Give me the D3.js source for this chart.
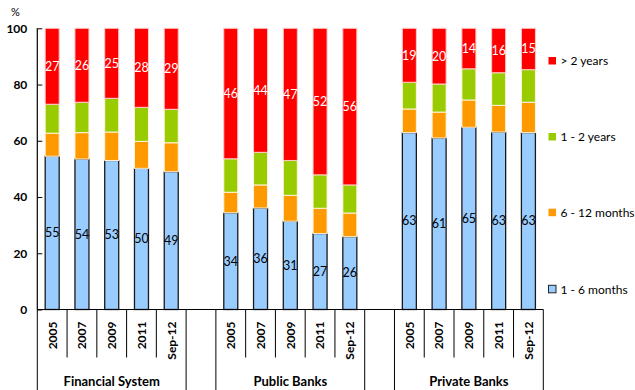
<!DOCTYPE html>
<html><head><meta charset="utf-8">
<script src="https://cdn.jsdelivr.net/npm/d3@7"></script>
<style>body{margin:0;background:#fff}svg{display:block}text{font-family:Lato,"Open Sans",sans-serif}</style>
</head><body><svg id="c" width="635" height="390"></svg>
<script>
const groups = ["Financial System", "Public Banks", "Private Banks"];
const periods = ["2005", "2007", "2009", "2011", "Sep-12"];
const seriesNames = ["1 - 6 months", "6 - 12 months", "1 - 2 years", "> 2 years"];
const seriesColors = ["#99CCFF", "#FF9900", "#99CC00", "#FF0000"];
// values per group, per period: [1-6m, 6-12m, 1-2y, >2y]
const finSystem = [[54.5, 8.2, 10.3, 27.0], [53.5, 9.4, 10.8, 26.3], [53.0, 10.1, 12.0, 24.9], [50.2, 9.6, 12.1, 28.1], [49.0, 10.3, 11.9, 28.8]];
const publicBanks = [[34.4, 7.3, 11.9, 46.4], [36.1, 8.2, 11.6, 44.1], [31.4, 9.2, 12.4, 47.0], [27.0, 9.0, 11.9, 52.1], [25.9, 8.4, 10.0, 55.7]];
const privateBanks = [[62.9, 8.4, 9.5, 19.2], [61.0, 9.2, 10.0, 19.8], [64.8, 9.7, 11.1, 14.4], [63.1, 9.5, 11.6, 15.8], [62.9, 10.8, 11.6, 14.7]];
const yTicks = [0, 20, 40, 60, 80, 100];

const groupData = [finSystem, publicBanks, privateBanks];
const svg = d3.select("#c");
const x0 = 37.3, x1 = 543.3, yTop = 28.3, yBot = 309.5;

const slots = [];
groups.forEach((g, gi) => {
  periods.forEach((p, pi) => slots.push({key: g + "|" + p, g, p, gi, pi, vals: groupData[gi][pi]}));
  if (gi < groups.length - 1) slots.push({key: "gap" + gi, gap: true});
});
const x = d3.scaleBand().domain(slots.map(s => s.key)).range([x0, x1]).paddingInner(0).paddingOuter(0);
const y = d3.scaleLinear().domain([0, 100]).range([yBot, yTop]);
const bw = 14;

const bars = slots.filter(s => !s.gap);
bars.forEach(s => {
  let acc = 0;
  const cx = x(s.key) + x.bandwidth() / 2;
  s.vals.forEach((v, i) => {
    const ya = y(acc + v), yb = y(acc);
    svg.append("rect").attr("x", cx - bw / 2).attr("y", ya).attr("width", bw).attr("height", yb - ya)
      .attr("fill", seriesColors[i])
      .attr("stroke", i === 0 ? "#1a1a1a" : (i === 3 ? "#ffc8c8" : "#fff4dd"))
      .attr("stroke-width", i === 0 ? 1.3 : 1);
    if (i === 0 || i === 3) {
      svg.append("text").attr("x", cx).attr("y", (ya + yb) / 2).attr("dy", "0.35em")
        .attr("text-anchor", "middle").attr("font-size", 12.5)
        .attr("fill", i === 3 ? "#fff" : "#000").text(Math.round(v));
    }
    acc += v;
  });
});

const yAxis = d3.axisRight(y).tickValues(yTicks).tickSize(5).tickFormat(d => d);
const ya = svg.append("g").attr("transform", `translate(${x0},0)`).call(yAxis);
ya.select(".domain").attr("stroke", "#000").attr("stroke-width", 1.2).attr("d", `M0,${yTop}V${yBot}`);
ya.selectAll(".tick line").attr("stroke", "#000");
ya.selectAll(".tick text").attr("x", -10).attr("text-anchor", "end").attr("font-size", 12)
  .attr("font-weight", "bold").attr("font-family", "Lato,sans-serif").attr("fill", "#000");
svg.append("text").attr("x", 15.5).attr("y", 16).attr("text-anchor", "middle").attr("font-size", 11).text("%");

svg.append("line").attr("x1", x0).attr("x2", x1).attr("y1", yBot).attr("y2", yBot).attr("stroke", "#000").attr("stroke-width", 1.2);
const bounds = slots.map(s => x(s.key)).concat([x1]);
bounds.forEach((bx, i) => {
  const full = (i === 0 || i === bounds.length - 1 || (slots[i] && slots[i].gap) || (slots[i - 1] && slots[i - 1].gap));
  svg.append("line").attr("x1", bx).attr("x2", bx).attr("y1", yBot).attr("y2", full ? 390 : 357.5)
    .attr("stroke", "#000").attr("stroke-width", 1);
});
bars.forEach(s => {
  const cx = x(s.key) + x.bandwidth() / 2;
  svg.append("text").attr("transform", `translate(${cx},321.5) rotate(-90)`).attr("dy", "0.36em")
    .attr("text-anchor", "end").attr("font-size", 12).attr("font-weight", "bold").text(s.p);
});
groups.forEach((g, gi) => {
  const first = x(g + "|" + periods[0]), last = x(g + "|" + periods[periods.length - 1]) + x.bandwidth();
  svg.append("text").attr("x", (first + last) / 2).attr("y", 381).attr("dy", "0.35em")
    .attr("text-anchor", "middle").attr("font-size", 13).attr("font-weight", "bold").text(g);
});

const legendY = [289.3, 212.7, 137, 61];
seriesNames.forEach((n, i) => {
  svg.append("rect").attr("x", 548.5).attr("y", legendY[i] - 4).attr("width", 7.5).attr("height", 7.5)
    .attr("fill", seriesColors[i]).attr("stroke", i === 0 ? "#222" : "none").attr("stroke-width", 1);
  svg.append("text").attr("x", 560.5).attr("y", legendY[i]).attr("dy", "0.35em").attr("font-size", 12).text(n);
});
</script></body></html>
